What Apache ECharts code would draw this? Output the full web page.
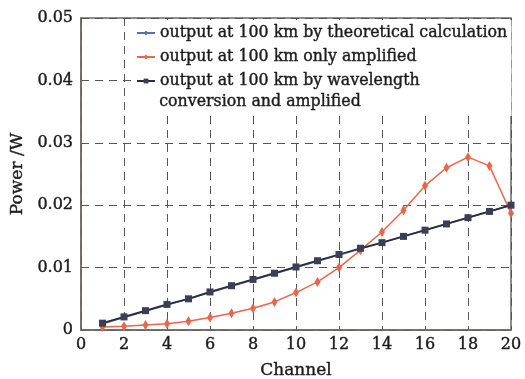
<!DOCTYPE html>
<html>
<head>
<meta charset="utf-8">
<script src="https://cdn.jsdelivr.net/npm/echarts@6/dist/echarts.min.js"></script>
<style>
  html, body { margin: 0; padding: 0; background: #fff; }
  #chart { width: 525px; height: 379px; }
</style>
</head>
<body>
<div id="chart"></div>
<script>
const channels = [1, 2, 3, 4, 5, 6, 7, 8, 9, 10, 11, 12, 13, 14, 15, 16, 17, 18, 19, 20];
const theoretical = [0.0010, 0.0020, 0.0030, 0.0040, 0.0050, 0.0060, 0.0070, 0.0080, 0.0090, 0.0100,
  0.0110, 0.0120, 0.0130, 0.0140, 0.0150, 0.0160, 0.0170, 0.0180, 0.0190, 0.0200];
const onlyAmplified = [0.0005, 0.0006, 0.0008, 0.0010, 0.0014, 0.0020, 0.0027, 0.0035, 0.0045, 0.0060,
  0.0077, 0.0100, 0.0128, 0.0157, 0.0192, 0.0231, 0.0260, 0.0277, 0.0263, 0.0187];
const wavelengthConv = [0.0011, 0.0021, 0.0031, 0.0041, 0.0050, 0.0061, 0.0071, 0.0081, 0.0091, 0.0101,
  0.0111, 0.0121, 0.0131, 0.0140, 0.0150, 0.0160, 0.0170, 0.0180, 0.0190, 0.0200];
const seriesNames = [
  "output at 100 km by theoretical calculation",
  "output at 100 km only amplified",
  "output at 100 km by wavelength",
];
// second line of the third legend entry
const legendContinuation = "conversion and amplified";

const serif = "DejaVu Serif";
const textColor = "#1c1c1c";
// a thin stroke makes the text a little heavier, like the printed figure
const heavy = { textBorderColor: textColor, textBorderWidth: 0.4 };
const pairs = (ys) => channels.map((c, i) => [c, ys[i]]);

const chart = echarts.init(document.getElementById("chart"));

chart.setOption({
  animation: false,
  backgroundColor: "#fff",
  grid: {
    left: 81,
    right: 14,
    top: 18,
    bottom: 49,
    outerBoundsMode: "none",
    containLabel: false,
    show: true,
    borderColor: "#6f6666",
    borderWidth: 1.5,
  },
  legend: {
    left: 132,
    top: 20,
    orient: "vertical",
    itemWidth: 18,
    itemHeight: 6,
    itemGap: 6,
    padding: [4, 4, 26, 4],
    backgroundColor: "#fff",
    textStyle: {
      fontFamily: serif,
      fontSize: 15.8,
      color: textColor,
      lineHeight: 18,
      ...heavy,
    },
    data: seriesNames,
  },
  graphic: [
    {
      type: "text",
      left: 159,
      top: 94,
      z: 100,
      style: {
        text: legendContinuation,
        font: "15.8px '" + serif + "'",
        fill: textColor,
        stroke: textColor,
        lineWidth: 0.4,
      },
    },
  ],
  xAxis: {
    type: "value",
    min: 0,
    max: 20,
    interval: 2,
    name: "Channel",
    nameLocation: "middle",
    nameGap: 32,
    nameTextStyle: { fontFamily: serif, fontSize: 17, color: textColor, ...heavy },
    axisLine: { lineStyle: { color: "#6f6666", width: 1.5 } },
    axisTick: { show: false },
    axisLabel: {
      fontFamily: serif,
      fontSize: 16,
      color: textColor,
      margin: 7,
      ...heavy,
    },
    splitLine: { lineStyle: { color: "#555", type: [8, 6], width: 1 } },
  },
  yAxis: {
    type: "value",
    min: 0,
    max: 0.05,
    interval: 0.01,
    name: "Power /W",
    nameLocation: "middle",
    nameGap: 53,
    nameTextStyle: { fontFamily: serif, fontSize: 17, color: textColor, ...heavy },
    axisLine: { show: true, lineStyle: { color: "#6f6666", width: 1.5 } },
    axisTick: { show: false },
    axisLabel: {
      fontFamily: serif,
      fontSize: 16,
      color: textColor,
      margin: 8,
      ...heavy,
      formatter: (v) => (v === 0 ? "0" : v.toFixed(2)),
    },
    splitLine: { lineStyle: { color: "#555", type: [8, 6], width: 1 } },
  },
  series: [
    {
      name: seriesNames[0],
      type: "line",
      data: pairs(theoretical),
      symbol: "diamond",
      symbolSize: 6,
      itemStyle: { color: "#5b6fb5" },
      lineStyle: { color: "#5b6fb5", width: 1.5 },
      z: 2,
    },
    {
      name: seriesNames[1],
      type: "line",
      data: pairs(onlyAmplified),
      symbol: "diamond",
      symbolSize: [6, 10],
      itemStyle: { color: "#e8674b" },
      lineStyle: { color: "#e8674b", width: 1.5 },
      z: 3,
    },
    {
      name: seriesNames[2],
      type: "line",
      data: pairs(wavelengthConv),
      symbol: "rect",
      symbolSize: 7,
      itemStyle: { color: "#3b3f55" },
      lineStyle: { color: "#2a2d3e", width: 1.8 },
      z: 4,
    },
  ],
});
</script>
</body>
</html>
